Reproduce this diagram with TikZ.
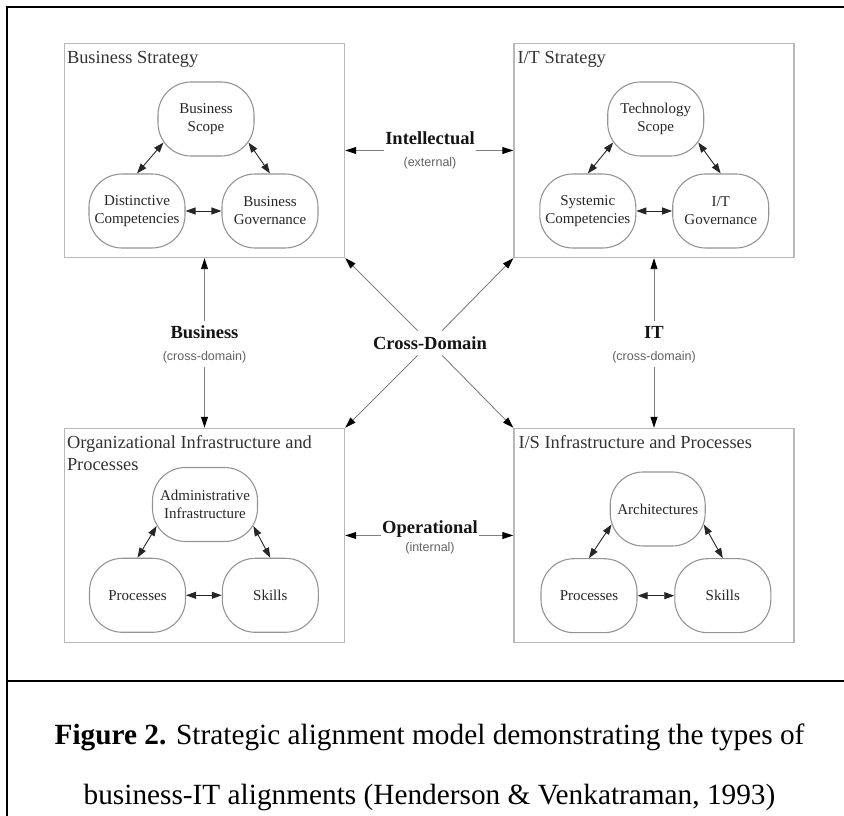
\documentclass[tikz,border=0pt]{standalone}
\usepackage{fontspec}
\setmainfont{Liberation Serif}
\newfontfamily\labsans{Liberation Sans}
\usetikzlibrary{arrows.meta}

\begin{document}
\begin{tikzpicture}[x=1pt,y=1pt,
  domainbox/.style={draw=black!28, line width=1.4pt, minimum width=280pt, minimum height=214pt, inner sep=0pt},
  domtitle/.style={anchor=base west, inner sep=0pt, font=\fontsize{18.4}{22}\selectfont, text=black!80},
  bubble/.style={draw=black!42, line width=1.1pt, rounded corners=33pt, minimum width=96pt, minimum height=74pt,
                 inner sep=1pt, align=center, font=\fontsize{15}{18}\selectfont, text=black!85},
  fitlabel/.style={font=\bfseries\fontsize{18.5}{22}\selectfont, text=black!92},
  sublabel/.style={font=\labsans\fontsize{12.5}{15}\selectfont, text=black!62},
  link/.style={draw=black!50, line width=0.9pt, -{Triangle[length=11pt,width=7pt,color=black]}},
  pair/.style={draw=black!85, line width=0.9pt,
               {Triangle[length=10pt,width=7pt]}-{Triangle[length=10pt,width=7pt]}},
  pageframe/.style={line width=2.2pt, draw=black}
]
\useasboundingbox (0,0) rectangle (844,816);

% page frame and caption rule
\coordinate (fTL) at (7,809);
\coordinate (fTR) at (844,809);
\coordinate (fBL) at (7,0);
\coordinate (sepL) at (7,135);
\coordinate (sepR) at (844,135);
\draw[pageframe] (fTR) -- (fTL) -- (fBL);
\draw[pageframe] (sepL) -- (sepR);

% the four domains
\node[domainbox] (bs)  at (204.5,665.5) {};
\node[domainbox] (its) at (654,665.5) {};
\node[domainbox] (org) at (204.5,280.5) {};
\node[domainbox] (iss) at (654,280.5) {};

\node[domtitle] (bsT)   at ([shift={(3,-21)}]bs.north west)  {Business Strategy};
\node[domtitle] (itsT)  at ([shift={(4,-21)}]its.north west) {I/T Strategy};
\node[domtitle] (orgT1) at ([shift={(3,-21)}]org.north west) {Organizational Infrastructure and};
\node[domtitle] (orgT2) at ([shift={(3,-43)}]org.north west) {Processes};
\node[domtitle] (issT)  at ([shift={(5,-21)}]iss.north west) {I/S Infrastructure and Processes};

% business strategy
\node[bubble] (bscope) at (206,697)   {Business\\Scope};
\node[bubble] (dc)     at (137,605)   {Distinctive\\Competencies};
\node[bubble] (bgov)   at (270,605)   {Business\\Governance};
\draw[pair] ([shift={(6,14)}]bscope.south west) -- (dc.north);
\draw[pair] ([shift={(-6,14)}]bscope.south east) -- (bgov.north);
\draw[pair] (dc.east) -- (bgov.west);

% I/T strategy
\node[bubble] (tscope) at (655.7,697) {Technology\\Scope};
\node[bubble] (sysc)   at (587.8,605) {Systemic\\Competencies};
\node[bubble] (itgov)  at (720.7,605) {I/T\\Governance};
\draw[pair] ([shift={(6,14)}]tscope.south west) -- (sysc.north);
\draw[pair] ([shift={(-6,14)}]tscope.south east) -- (itgov.north);
\draw[pair] (sysc.east) -- (itgov.west);

% organizational infrastructure and processes
\node[bubble, minimum width=105pt] (admin) at (205,311.5) {Administrative\\Infrastructure};
\node[bubble] (procA)  at (137.5,220.7) {Processes};
\node[bubble] (skillA) at (270.3,220.7) {Skills};
\draw[pair] ([shift={(4.7,16)}]admin.south west) -- (procA.north);
\draw[pair] ([shift={(-4.7,16)}]admin.south east) -- (skillA.north);
\draw[pair] (procA.east) -- (skillA.west);

% I/S infrastructure and processes
\node[bubble, minimum width=95pt] (arch) at (657.7,307) {Architectures};
\node[bubble] (procB)  at (589,220.3)   {Processes};
\node[bubble] (skillB) at (722.8,220.3) {Skills};
\draw[pair] ([shift={(1.9,22)}]arch.south west) -- (procB.north);
\draw[pair] ([shift={(-1.9,22)}]arch.south east) -- (skillB.north);
\draw[pair] (procB.east) -- (skillB.west);

% strategic fit: intellectual
\node[fitlabel, anchor=base, inner xsep=1.5pt, inner ysep=0pt] (intel) at (430,671) {Intellectual};
\node[sublabel, anchor=base] (intelS) at (430,649.3) {(external)};
\coordinate (intelL) at (intel.west |- bs.east);
\coordinate (intelR) at (intel.east |- its.west);
\draw[link] (intelL) -- (bs.east);
\draw[link] (intelR) -- (its.west);

% strategic fit: operational
\node[fitlabel, anchor=base, inner xsep=1.5pt, inner ysep=0pt] (oper) at (430,282.7) {Operational};
\node[sublabel, anchor=base] (operS) at (430,264.3) {(internal)};
\coordinate (operL) at (oper.west |- org.east);
\coordinate (operR) at (oper.east |- iss.west);
\draw[link] (operL) -- (org.east);
\draw[link] (operR) -- (iss.west);

% functional integration: business
\node[fitlabel, anchor=base, inner sep=4.5pt] (busT) at (204.5,477.7) {Business};
\node[sublabel, anchor=base, inner sep=3.5pt] (busS) at (204.5,455.3) {(cross-domain)};
\draw[link] (busT) -- (bs.south);
\draw[link] (busS) -- (org.north);

% functional integration: IT
\node[fitlabel, anchor=base, inner sep=4.5pt] (itT) at (654,477.7) {IT};
\node[sublabel, anchor=base, inner sep=3.5pt] (itS) at (654,455.3) {(cross-domain)};
\draw[link] (itT) -- (its.south);
\draw[link] (itS) -- (iss.north);

% cross-domain links
\node[fitlabel, inner sep=5.7pt] (cd) at (430,473) {Cross-Domain};
\draw[link] (cd) -- (bs.south east);
\draw[link] (cd) -- (its.south west);
\draw[link] (cd) -- (org.north east);
\draw[link] (cd) -- (iss.north west);

% caption
\node[anchor=base, inner sep=0pt, font=\fontsize{29.3}{35}\selectfont] (cap1) at (429.5,71)
  {\textbf{Figure 2.} Strategic alignment model demonstrating the types of};
\node[anchor=base, inner sep=0pt, font=\fontsize{29.3}{35}\selectfont] (cap2) at (429.5,11)
  {business-IT alignments (Henderson \& Venkatraman, 1993)};
\end{tikzpicture}
\end{document}
